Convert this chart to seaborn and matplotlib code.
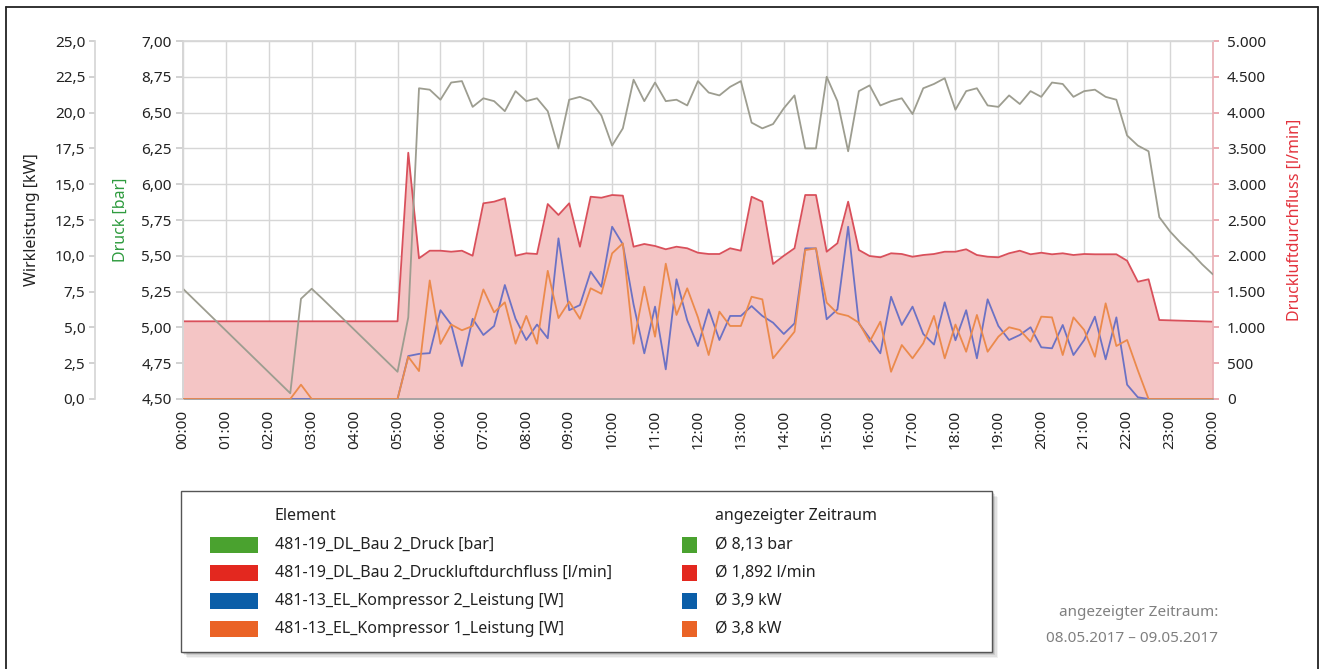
import numpy as np
import pandas as pd
import matplotlib
matplotlib.use("Agg")
import matplotlib.pyplot as plt
import seaborn as sns
from matplotlib.patches import Rectangle
from matplotlib.lines import Line2D

# ---- data (hours of the day) ----
hour_labels = ["%02d:00" % (h % 24) for h in range(25)]

druck_ticks = [4.50, 4.75, 5.00, 5.25, 5.50, 5.75, 6.00, 6.25, 6.50, 6.75, 7.00]
druck_ticklabels = ["4,50", "4,75", "5,00", "5,25", "5,50", "5,75", "6,00",
                    "6,25", "6,50", "8,75", "7,00"]
kw_ticklabels = ["0,0", "2,5", "5,0", "7,5", "10,0", "12,5", "15,0",
                 "17,5", "20,0", "22,5", "25,0"]
flow_ticklabels = ["0", "500", "1.000", "1.500", "2.000", "2.500", "3.000",
                   "3.500", "4.000", "4.500", "5.000"]

# Druck [bar]
druck_h = [0, 2.5, 2.75, 3.0, 3.25, 5.0, 5.25] + list(np.arange(5.5, 24.01, 0.25))
druck = [5.27, 4.54, 5.20, 5.27, 5.20, 4.69, 5.07,
         6.67, 6.66, 6.59, 6.71, 6.72, 6.54, 6.60, 6.58, 6.51, 6.65,
         6.58, 6.60, 6.51, 6.25, 6.59, 6.61, 6.58, 6.48,
         6.27, 6.39, 6.73, 6.58, 6.71, 6.58, 6.59, 6.55, 6.72, 6.64,
         6.62, 6.68, 6.72, 6.43, 6.39, 6.42, 6.53, 6.62, 6.25, 6.25,
         6.75, 6.58, 6.23, 6.65, 6.69, 6.55, 6.58, 6.60, 6.49, 6.67,
         6.70, 6.74, 6.52, 6.65, 6.67, 6.55, 6.54, 6.62, 6.56, 6.65,
         6.61, 6.71, 6.70, 6.61, 6.65, 6.66, 6.61, 6.59, 6.34, 6.27,
         6.23, 5.77, 5.67, 5.59, 5.52, 5.44, 5.37]

# Druckluftdurchfluss [l/min]
flow_h = [0, 5.0] + list(np.arange(5.25, 22.76, 0.25)) + [24.0]
flow = [1085, 1085,
        3440, 1965, 2071, 2071, 2057, 2071, 2001, 2733, 2756, 2803,
        2001, 2035, 2025, 2723, 2570, 2733, 2127, 2825, 2811,
        2849, 2840, 2127, 2165, 2137, 2091, 2127, 2105, 2043, 2025,
        2025, 2105, 2071, 2825, 2756, 1886, 2000, 2105, 2849, 2849,
        2057, 2175, 2756, 2081, 1997, 1979, 2035, 2025, 1987, 2011,
        2025, 2057, 2057, 2091, 2011, 1987, 1979, 2035, 2071, 2021,
        2043, 2021, 2035, 2011, 2025, 2021, 2021, 2021, 1931, 1638,
        1672, 1103,
        1080]

# Kompressor 2 Leistung [kW]
k2_h = [0] + list(np.arange(5.0, 22.51, 0.25)) + [24.0]
k2 = [0,
      0, 3.0, 3.15, 3.2, 6.2, 5.2, 2.3, 5.6, 4.47, 5.1,
      7.96, 5.6, 4.12, 5.2, 4.24, 11.22, 6.2, 6.56, 8.89, 7.84,
      12.03, 10.8, 6.6, 3.19, 6.45, 2.07, 8.36, 5.5, 3.7, 6.26,
      4.12, 5.8, 5.8, 6.49, 5.8, 5.33, 4.54, 5.28, 10.52, 10.52,
      5.57, 6.26, 12.03, 5.28, 4.24, 3.19, 7.14, 5.17, 6.45, 4.54,
      3.8, 6.75, 4.1, 6.2, 2.84, 6.96, 5.1, 4.12, 4.47, 5.01,
      3.61, 3.54, 5.17, 3.07, 4.12, 5.75, 2.77, 5.7, 1.0, 0.12,
      0,
      0]

# Kompressor 1 Leistung [kW]
k1_h = [0, 2.5, 2.75, 3.0] + list(np.arange(5.0, 22.51, 0.25)) + [24.0]
k1 = [0, 0, 1.0, 0,
      0, 2.95, 1.95, 8.28, 3.85, 5.2, 4.8, 5.1, 7.65, 6.05,
      6.75, 3.86, 5.8, 3.86, 8.95, 5.65, 6.8, 5.6, 7.73, 7.35,
      10.17, 10.87, 3.86, 7.84, 4.35, 9.45, 5.87, 7.73, 5.7, 3.07,
      6.1, 5.1, 5.1, 7.14, 6.96, 2.84, 3.77, 4.7, 10.4, 10.52,
      6.73, 5.98, 5.8, 5.33, 4.0, 5.4, 1.9, 3.77, 2.84, 3.89,
      5.8, 2.84, 5.2, 3.3, 5.87, 3.3, 4.35, 5.01, 4.82, 4.0,
      5.75, 5.7, 3.07, 5.7, 4.82, 2.95, 6.68, 3.7, 4.12, 2.0,
      0,
      0]

legend_names = ["481-19_DL_Bau 2_Druck [bar]",
                "481-19_DL_Bau 2_Druckluftdurchfluss [l/min]",
                "481-13_EL_Kompressor 2_Leistung [W]",
                "481-13_EL_Kompressor 1_Leistung [W]"]
legend_avgs = ["Ø 8,13 bar", "Ø 1,892 l/min", "Ø 3,9 kW", "Ø 3,8 kW"]
legend_colors = ["#4aa22f", "#e3281f", "#0b5ea8", "#ea6326"]

# ---- plot ----
sns.set_theme(style="white")
plt.rcParams['font.family'] = ['Noto Sans', 'DejaVu Sans']

fig = plt.figure(figsize=(13.23, 6.69), dpi=100)
ax = fig.add_axes([0.1383, 0.4036, 0.7785, 0.5351])
ax_p = ax.twinx()
ax_kw = ax.twinx()

# flow on the base axes (right scale)
ax.fill_between(flow_h, flow, 0, color="#f4c5c5", lw=0, zorder=1)
sns.lineplot(x=flow_h, y=flow, ax=ax, color="#d9505b", lw=1.3, zorder=2)
ax.set_xlim(0, 24)
ax.set_ylim(0, 5000)
ax.set_xticks(range(25))
ax.set_xticklabels(hour_labels, rotation=90)
ax.set_yticks(np.arange(0, 5001, 500))
ax.set_yticklabels(flow_ticklabels)
ax.yaxis.tick_right()
ax.grid(True, color="#d6d6d6", lw=1)
ax.set_axisbelow(True)
ax.tick_params(axis="x", length=0, pad=8, labelsize=11, colors="#222222")
ax.tick_params(axis="y", which="both", left=False, labelleft=False,
               right=True, labelright=True, length=4, pad=6,
               color="#e8a0a8", labelsize=11, labelcolor="#222222")
for s in ["top", "left"]:
    ax.spines[s].set_color("#d6d6d6")
ax.spines["right"].set_color("#eab0b6")
ax.spines["bottom"].set_color("#9a9a9a")
ax.spines["bottom"].set_linewidth(1.2)

# pressure (inner left scale)
sns.lineplot(x=druck_h, y=druck, ax=ax_p, color="#9d9d90", lw=1.3)
ax_p.set_ylim(4.5, 7.0)
ax_p.set_yticks(druck_ticks)
ax_p.set_yticklabels(druck_ticklabels)
ax_p.yaxis.tick_left()
ax_p.tick_params(axis="y", length=5, pad=3, color="#cccccc", labelsize=11,
                 labelcolor="#222222")
for s in ["top", "bottom", "right"]:
    ax_p.spines[s].set_visible(False)
ax_p.spines["left"].set_color("#d6d6d6")

# power (outer left scale)
sns.lineplot(x=k2_h, y=k2, ax=ax_kw, color="#6c72c4", lw=1.3)
sns.lineplot(x=k1_h, y=k1, ax=ax_kw, color="#eb8a4c", lw=1.3)
ax_kw.set_ylim(0, 25)
ax_kw.set_yticks(np.arange(0, 25.01, 2.5))
ax_kw.set_yticklabels(kw_ticklabels)
ax_kw.yaxis.tick_left()
ax_kw.spines["left"].set_position(("axes", -0.0855))
ax_kw.tick_params(axis="y", length=4, pad=3, color="#cccccc", labelsize=11,
                  labelcolor="#222222")
for s in ["top", "bottom", "right"]:
    ax_kw.spines[s].set_visible(False)
ax_kw.spines["left"].set_color("#d6d6d6")

for a in (ax, ax_p, ax_kw):
    a.set_xlabel("")
    a.set_ylabel("")

W, H = 1323.0, 669.0
def fx(px):
    return px / W
def fy(py):
    return 1 - py / H

fig.text(fx(32), fy(220), "Wirkleistung [kW]", rotation=90, ha="center",
         va="center", fontsize=11.5, color="#222222")
fig.text(fx(121), fy(220), "Druck [bar]", rotation=90, ha="center",
         va="center", fontsize=11.5, color="#2e9b3e")
fig.text(fx(1295), fy(220), "Druckluftdurchfluss [l/min]", rotation=90,
         ha="center", va="center", fontsize=11.5, color="#e3323c")

# legend box with soft shadow
for i, al in enumerate([0.05, 0.07, 0.09, 0.12]):
    off = 6 - i * 1.5
    fig.patches.append(Rectangle((fx(181 + off), fy(652 + off)), fx(811), 161 / H,
                                 transform=fig.transFigure, facecolor="black",
                                 edgecolor="none", alpha=al))
fig.patches.append(Rectangle((fx(181), fy(652)), fx(811), 161 / H,
                             transform=fig.transFigure, facecolor="white",
                             edgecolor="#555555", lw=1.0))

fig.text(fx(275), fy(516), "Element", ha="left", va="center", fontsize=11.5,
         color="#222222")
fig.text(fx(715), fy(516), "angezeigter Zeitraum", ha="left", va="center",
         fontsize=11.5, color="#222222")
for i, (name, avg, col) in enumerate(zip(legend_names, legend_avgs, legend_colors)):
    yc = 545 + i * 28
    fig.patches.append(Rectangle((fx(210), fy(yc + 8)), fx(48), 16 / H,
                                 transform=fig.transFigure, facecolor=col,
                                 edgecolor="none"))
    fig.patches.append(Rectangle((fx(682), fy(yc + 8)), fx(15), 16 / H,
                                 transform=fig.transFigure, facecolor=col,
                                 edgecolor="none"))
    fig.text(fx(275), fy(yc), name, ha="left", va="center", fontsize=11.5,
             color="#222222")
    fig.text(fx(715), fy(yc), avg, ha="left", va="center", fontsize=11.5,
             color="#222222")

fig.text(fx(1218), fy(613), "angezeigter Zeitraum:", ha="right", va="center",
         fontsize=11, color="#808080")
fig.text(fx(1218), fy(638), "08.05.2017 – 09.05.2017", ha="right", va="center",
         fontsize=11, color="#808080")

# outer frame
fig.add_artist(Line2D([fx(6), fx(6)], [0, fy(7)], color="#222222", lw=1.3))
fig.add_artist(Line2D([fx(6), fx(1318)], [fy(7), fy(7)], color="#222222", lw=1.3))
fig.add_artist(Line2D([fx(1318), fx(1318)], [0, fy(7)], color="#222222", lw=1.3))

fig.savefig("out.png", dpi=100)
